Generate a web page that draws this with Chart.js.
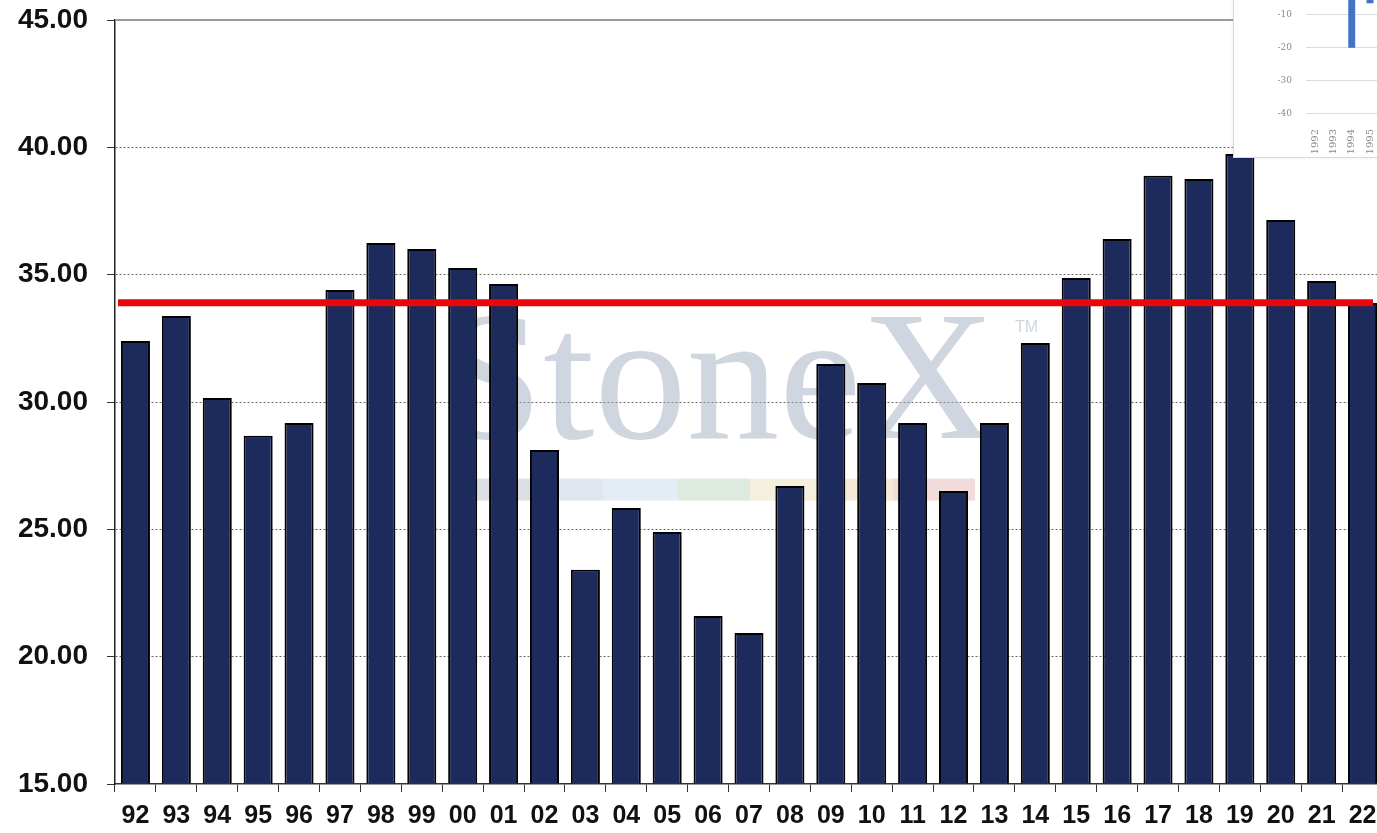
<!DOCTYPE html>
<html>
<head>
<meta charset="utf-8">
<script src="https://cdn.jsdelivr.net/npm/chart.js@4.4.1/dist/chart.umd.min.js"></script>
<style>
  html, body { margin: 0; padding: 0; background: #fff; overflow: hidden; width: 1377px; height: 833px; }
  #wrap { position: absolute; left: 0; top: 0; width: 1383px; height: 833px; }
  #inset { position: absolute; left: 1233px; top: -60px; width: 200px; height: 216px; background: #fff;
           border: 1px solid #d8d8d8; box-shadow: 0 0 3px rgba(0,0,0,0.08); }
</style>
</head>
<body>
<div id="wrap"><canvas id="chart"></canvas></div>
<div id="inset"><canvas id="mini"></canvas></div>
<script>
// years (2-digit) and values
const years = ['92','93','94','95','96','97','98','99','00','01','02','03','04','05','06','07','08','09','10','11','12','13','14','15','16','17','18','19','20','21','22'];
const values = [32.40, 33.38, 30.16, 28.67, 29.18, 34.40, 36.24, 36.01, 35.26, 34.63,
                28.12, 23.41, 25.84, 24.90, 21.60, 20.93, 26.70, 31.49, 30.75, 29.18,
                26.51, 29.18, 32.32, 34.87, 36.40, 38.88, 38.76, 39.74, 37.15, 34.75, 33.89];
const refLevel = [33.9];          // red horizontal line
const yTicks = [15, 45, 5];       // min, max, step

// inset (cut-off chart in the corner)
const miniYears = ['1992', '1993', '1994', '1995', '1996', '1997', '1998'];
const miniValues = [null, null, -20, -6.5, null, null, null];
const miniTicks = [-40, -30, -20, -10, 0, 10];

const FONT = "'Liberation Sans', Arial, Helvetica, sans-serif";

// watermark, top line and red level line
const overlay = {
    id: 'overlay',
    beforeDatasetsDraw(c) {
        const { ctx, chartArea: a, scales: { y } } = c;
        ctx.save();
        // StoneX watermark
        const base = y.getPixelForValue(28.6);
        ctx.fillStyle = 'rgba(160,174,192,0.5)';
        ctx.font = "185px 'Liberation Serif', 'Times New Roman', serif";
        ctx.textAlign = 'left';
        ctx.textBaseline = 'alphabetic';
        ctx.fillText('StoneX', 440, base);
        ctx.font = "16px 'Liberation Sans', Arial, sans-serif";
        ctx.fillText('TM', 1015, base - 106);
        // colour strip under the logo
        const strip = ['#d3d8de', '#d8e1ea', '#dde9f3', '#d6e4d7', '#f2ecd4', '#f4e3cf', '#efd3d2'];
        const w = [77, 52, 75, 72, 67, 76, 82];
        let x = 474;
        strip.forEach((col, i) => { ctx.fillStyle = col; ctx.globalAlpha = 0.8; ctx.fillRect(x, base + 41, w[i], 22); x += w[i]; });
        ctx.restore();
    },
    afterDatasetsDraw(c) {
        const { ctx, chartArea: a, scales: { y } } = c;
        ctx.save();
        // top border line at 45
        ctx.strokeStyle = '#9a9a9a';
        ctx.lineWidth = 2;
        ctx.beginPath();
        ctx.moveTo(a.left, y.getPixelForValue(yTicks[1]));
        ctx.lineTo(a.right, y.getPixelForValue(yTicks[1]));
        ctx.stroke();
        // red level line
        const ry = y.getPixelForValue(refLevel[0]);
        ctx.strokeStyle = '#e8080c';
        ctx.lineWidth = 7;
        ctx.beginPath();
        ctx.moveTo(a.left + 3, ry);
        ctx.lineTo(a.right - 10, ry);
        ctx.stroke();
        ctx.restore();
    }
};

chart = new Chart(document.getElementById('chart'), {
    type: 'bar',
    data: {
        labels: years,
        datasets: [{
            data: values,
            base: yTicks[0],
            backgroundColor: '#1d2a5c',
            borderColor: '#000',
            borderWidth: 2,
            borderSkipped: 'bottom',
            barPercentage: 0.71,
            categoryPercentage: 1.0
        }]
    },
    options: {
        responsive: true, maintainAspectRatio: false, animation: false,
        layout: { padding: { top: 20, left: 0, right: 0, bottom: 0 } },
        plugins: { legend: { display: false }, tooltip: { enabled: false } },
        scales: {
            x: {
                offset: true,
                grid: { drawOnChartArea: false, offset: true, tickLength: 8, color: '#333', lineWidth: 1 },
                border: { color: '#333', width: 1.5 },
                ticks: { color: '#111', padding: 9, maxRotation: 0, autoSkip: false,
                         font: { family: FONT, size: 25, weight: 'bold' } },
                afterFit: s => { s.height = 49; s.paddingLeft = 0; s.paddingRight = 0; }
            },
            y: {
                min: yTicks[0], max: yTicks[1],
                ticks: { stepSize: yTicks[2], color: '#111', padding: 19,
                         font: { family: FONT, size: 28, weight: 'bold' },
                         callback: v => v.toFixed(2) },
                grid: {
                    color: c => (c.tick && (c.tick.value === yTicks[0] || c.tick.value === yTicks[1])) ? 'rgba(0,0,0,0)' : '#666',
                    lineWidth: 1, tickLength: 8, tickColor: '#333', tickBorderDash: []
                },
                border: { color: '#222', width: 1.5, dash: [2, 2] },
                afterFit: s => { s.width = 115; s.paddingTop = 0; s.paddingBottom = 0; }
            }
        }
    },
    plugins: [overlay]
});

new Chart(document.getElementById('mini'), {
    type: 'bar',
    data: { labels: miniYears, datasets: [{ data: miniValues, backgroundColor: '#4472c4', barPercentage: 0.38, categoryPercentage: 1.0 }] },
    options: {
        responsive: true, maintainAspectRatio: false, animation: false,
        layout: { padding: { top: 0, left: 0, right: 0, bottom: 0 } },
        plugins: { legend: { display: false }, tooltip: { enabled: false } },
        scales: {
            x: {
                grid: { display: false }, border: { display: false },
                ticks: { color: '#8a8a8a', padding: 4, minRotation: 90, maxRotation: 90, autoSkip: false,
                         font: { family: "'DejaVu Serif', serif", size: 10 } },
                afterFit: s => { s.height = 40; s.paddingLeft = 0; s.paddingRight = 0; }
            },
            y: {
                min: -41, max: 12.4,
                afterBuildTicks: s => { s.ticks = miniTicks.map(v => ({ value: v })); },
                ticks: { color: '#8a8a8a', padding: 14, font: { family: "'DejaVu Serif', serif", size: 9 } },
                grid: { color: '#dcdcdc', tickLength: 0 }, border: { display: false },
                afterFit: s => { s.width = 72; s.paddingTop = 0; s.paddingBottom = 0; }
            }
        }
    }
});
</script>
</body>
</html>
